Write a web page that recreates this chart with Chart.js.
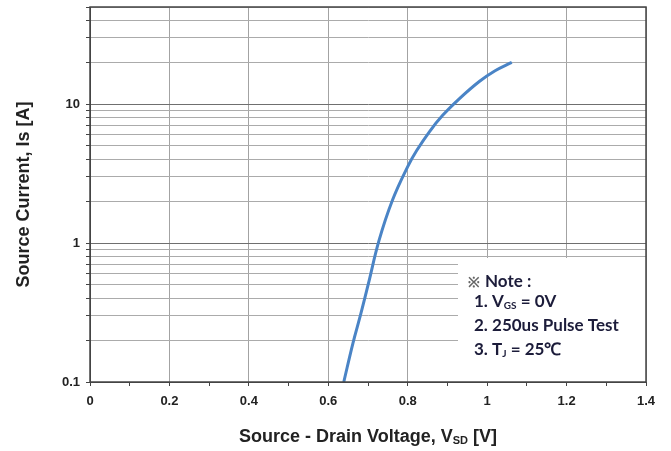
<!DOCTYPE html>
<html>
<head>
<meta charset="utf-8">
<script src="https://cdn.jsdelivr.net/npm/chart.js@4/dist/chart.umd.min.js"></script>
<style>
  body { margin: 0; background: #fff; }
  #wrap { width: 671px; height: 451px; position: relative; }
</style>
</head>
<body>
<div id="wrap"><canvas id="vsd"></canvas></div>
<script>
// Source-drain diode forward curve
const vsdValues = [0.639, 0.662, 0.682, 0.701, 0.728, 0.762, 0.800, 0.823, 0.855, 0.888, 0.931, 0.981, 1.020, 1.062];
const isValues  = [0.10, 0.19, 0.31, 0.51, 1.05, 2.05, 3.55, 4.65, 6.35, 8.30, 11.0, 14.6, 17.4, 20.0];

// grid positions on the log axis and labelled decades
const yGridValues = [0.1, 0.2, 0.3, 0.4, 0.5, 0.6, 0.7, 0.8, 0.9, 1, 2, 3, 4, 5, 6, 7, 8, 9, 10, 20, 30, 40, 50];
const yTickLabels = {0.1: '0.1', 1: '1', 10: '10'};
const xTickLabels = ['0', '0.2', '0.4', '0.6', '0.8', '1', '1.2', '1.4'];

const noteLines = [
  [['1. V', 0], ['GS', 1], [' = 0V', 0]],
  [['2. 250us Pulse Test', 0]],
  [['3. T', 0], ['J', 1], [' = 25\u2103', 0]]
];

const points = vsdValues.map((v, i) => ({x: v, y: isValues[i]}));

function drawRich(ctx, parts, x, y, size, measureOnly) {
  let cx = x;
  parts.forEach(p => {
    const sub = p[1] === 1;
    ctx.font = 'bold ' + (sub ? Math.round(size * 0.6) : size) + 'px ' + ctx._fam;
    if (!measureOnly) ctx.fillText(p[0], cx, sub ? y + size * 0.22 : y);
    cx += ctx.measureText(p[0]).width;
  });
  return cx - x;
}

const overlay = {
  id: 'overlay',
  afterDraw(chart) {
    const ctx = chart.ctx;
    const a = chart.chartArea;
    ctx.save();

    // note box covering the grid
    ctx.fillStyle = '#fff';
    ctx.fillRect(458, 258, a.right - 458, a.bottom - 258);
    ctx._fam = 'Lato, "Open Sans", sans-serif';
    ctx.textBaseline = 'middle';
    ctx.textAlign = 'left';
    ctx.font = 'bold 14px ' + ctx._fam;
    ctx.fillStyle = '#666';
    ctx.fillText('\u203B', 468, 282);
    ctx.fillStyle = '#1c1c3a';
    ctx.font = 'bold 17px ' + ctx._fam;
    ctx.fillText('Note :', 485, 282);
    noteLines.forEach((ln, i) => drawRich(ctx, ln, 474, 302 + i * 24, 17));

    // plot frame
    ctx.strokeStyle = '#444';
    ctx.lineWidth = 1.5;
    ctx.strokeRect(a.left, a.top, a.right - a.left, a.bottom - a.top);

    // axis titles
    ctx._fam = '"Liberation Sans", Arial, sans-serif';
    ctx.fillStyle = '#222';
    const xt = [['Source - Drain Voltage, V', 0], ['SD', 1], [' [V]', 0]];
    const w = drawRich(ctx, xt, 0, 0, 18, true);
    drawRich(ctx, xt, (a.left + a.right) / 2 - w / 2, 437, 18);

    ctx.translate(24, (a.top + a.bottom) / 2);
    ctx.rotate(-Math.PI / 2);
    ctx.textAlign = 'center';
    ctx.font = 'bold 18px ' + ctx._fam;
    ctx.fillText('Source Current, Is [A]', 0, 0);
    ctx.restore();
  }
};

new Chart(document.getElementById('vsd'), {
  type: 'line',
  data: {
    datasets: [{
      data: points,
      borderColor: '#4a84c6',
      borderWidth: 3,
      pointRadius: 0,
      tension: 0.4,
      fill: false
    }]
  },
  options: {
    responsive: true,
    maintainAspectRatio: false,
    animation: false,
    layout: {padding: {left: 0, top: 7, right: 25, bottom: 0}},
    plugins: {legend: {display: false}, tooltip: {enabled: false}},
    scales: {
      x: {
        type: 'linear',
        min: 0,
        max: 1.4,
        afterFit: s => { s.height = 69; s.paddingLeft = 0; s.paddingRight = 0; },
        border: {display: true, color: '#444', width: 1},
        grid: {
          color: c => (Math.round(c.tick.value * 10) % 2 === 0 ? '#a3a3a3' : 'rgba(0,0,0,0)'),
          tickColor: '#444',
          tickLength: 4
        },
        ticks: {
          stepSize: 0.1,
          autoSkip: false,
          maxRotation: 0,
          padding: 8,
          color: '#222',
          font: {family: '"Liberation Sans", Arial, sans-serif', size: 13, weight: 'bold'},
          callback: v => {
            const k = Math.round(v * 10);
            return k % 2 === 0 ? xTickLabels[k / 2] : '';
          }
        }
      },
      y: {
        type: 'logarithmic',
        min: 0.1,
        max: 50,
        afterFit: s => { s.width = 90; s.paddingTop = 0; s.paddingBottom = 0; },
        afterBuildTicks: s => { s.ticks = yGridValues.map(v => ({value: v})); },
        border: {display: true, color: '#444', width: 1},
        grid: {
          color: c => (yTickLabels[c.tick.value] ? '#6f6f6f' : '#ababab'),
          tickColor: '#444',
          tickLength: 4
        },
        ticks: {
          autoSkip: false,
          padding: 6,
          color: '#222',
          font: {family: '"Liberation Sans", Arial, sans-serif', size: 13, weight: 'bold'},
          callback: v => yTickLabels[v] || ''
        }
      }
    }
  },
  plugins: [overlay]
});
</script>
</body>
</html>
